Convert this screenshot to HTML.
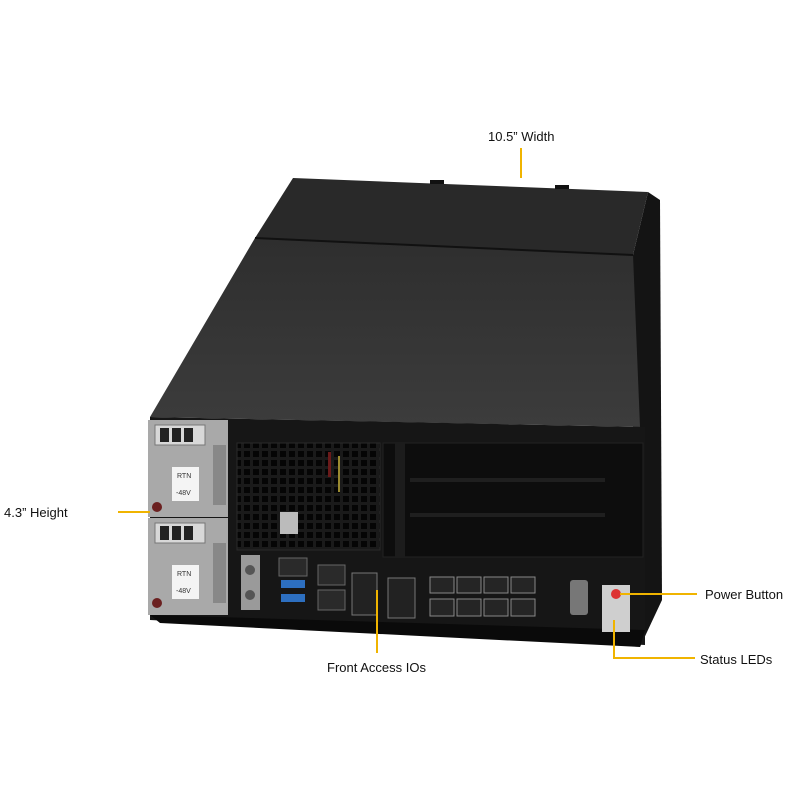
<!DOCTYPE html>
<html><head><style>
body{margin:0;background:#fff;}
svg{display:block;font-family:"Liberation Sans",Arial,sans-serif;}
</style></head><body>
<svg width="800" height="800" viewBox="0 0 800 800">
<defs>
<linearGradient id="top" x1="0" y1="0" x2="0" y2="1"><stop offset="0" stop-color="#2e2e2e"/><stop offset="1" stop-color="#3c3c3c"/></linearGradient>
<pattern id="grid" width="9" height="9" patternUnits="userSpaceOnUse"><rect width="9" height="9" fill="#1a1a1a"/><rect x="1" y="1" width="6" height="6" fill="#050505"/></pattern>
</defs>
<polygon points="648,192 660,200 662,600 640,647 633,427 633,255" fill="#141414"/>
<polygon points="293,178 648,192 633,255 255,238" fill="#292929"/>
<polygon points="255,238 633,255 640,427 150,417" fill="url(#top)"/>
<line x1="255" y1="238" x2="633" y2="255" stroke="#111" stroke-width="2"/>
<rect x="430" y="180" width="14" height="4" fill="#111"/><rect x="555" y="185" width="14" height="4" fill="#111"/>
<polygon points="150,417 645,427 645,645 150,620" fill="#161616"/>
<polygon points="150,615 645,630 640,647 160,623" fill="#0a0a0a"/>
<g>
<rect x="148" y="420" width="80" height="97" fill="#a9a9a9"/>
<rect x="155" y="425" width="50" height="20" fill="#d8d8d8" stroke="#777"/>
<rect x="160" y="428" width="9" height="14" fill="#222"/><rect x="172" y="428" width="9" height="14" fill="#222"/><rect x="184" y="428" width="9" height="14" fill="#222"/>
<rect x="172" y="467" width="27" height="34" fill="#f4f4f4"/>
<text x="177" y="478" font-size="7" fill="#333">RTN</text><text x="176" y="495" font-size="7" fill="#333">-48V</text>
<rect x="213" y="445" width="13" height="60" fill="#888"/>
<circle cx="157" cy="507" r="5" fill="#6b2020"/>
</g>
<g>
<rect x="148" y="518" width="80" height="97" fill="#a9a9a9"/>
<rect x="155" y="523" width="50" height="20" fill="#d8d8d8" stroke="#777"/>
<rect x="160" y="526" width="9" height="14" fill="#222"/><rect x="172" y="526" width="9" height="14" fill="#222"/><rect x="184" y="526" width="9" height="14" fill="#222"/>
<rect x="172" y="565" width="27" height="34" fill="#f4f4f4"/>
<text x="177" y="576" font-size="7" fill="#333">RTN</text><text x="176" y="593" font-size="7" fill="#333">-48V</text>
<rect x="213" y="543" width="13" height="60" fill="#888"/>
<circle cx="157" cy="603" r="5" fill="#6b2020"/>
</g>
<rect x="237" y="443" width="143" height="107" fill="url(#grid)" stroke="#2a2a2a"/>
<rect x="280" y="512" width="18" height="22" fill="#bbb"/>
<rect x="328" y="452" width="3" height="25" fill="#6a1a1a"/><rect x="338" y="456" width="2" height="36" fill="#9a8a30"/>
<rect x="383" y="443" width="260" height="114" fill="#0d0d0d" stroke="#222"/>
<rect x="395" y="443" width="10" height="114" fill="#1c1c1c"/>
<rect x="410" y="478" width="195" height="4" fill="#1f1f1f"/>
<rect x="410" y="513" width="195" height="4" fill="#1f1f1f"/>
<rect x="241" y="555" width="19" height="55" fill="#9a9a9a"/>
<circle cx="250" cy="570" r="5" fill="#555"/><circle cx="250" cy="595" r="5" fill="#555"/>
<rect x="279" y="558" width="28" height="18" fill="#2a2a2a" stroke="#666"/>
<rect x="281" y="580" width="24" height="8" fill="#2d6fc0"/><rect x="281" y="594" width="24" height="8" fill="#2d6fc0"/>
<rect x="318" y="565" width="27" height="20" fill="#2a2a2a" stroke="#666"/>
<rect x="318" y="590" width="27" height="20" fill="#2a2a2a" stroke="#666"/>
<rect x="352" y="573" width="25" height="42" fill="#222" stroke="#777"/>
<rect x="388" y="578" width="27" height="40" fill="#222" stroke="#777"/>
<g fill="#252525" stroke="#888">
<rect x="430" y="577" width="24" height="16"/><rect x="457" y="577" width="24" height="16"/><rect x="484" y="577" width="24" height="16"/><rect x="511" y="577" width="24" height="16"/>
<rect x="430" y="599" width="24" height="17"/><rect x="457" y="599" width="24" height="17"/><rect x="484" y="599" width="24" height="17"/><rect x="511" y="599" width="24" height="17"/>
</g>
<rect x="570" y="580" width="18" height="35" rx="3" fill="#777"/>
<rect x="602" y="585" width="28" height="47" fill="#cfcfcf"/>
<circle cx="616" cy="594" r="5" fill="#d33"/>
<g stroke="#f0b400" stroke-width="2" fill="none">
<line x1="521" y1="148" x2="521" y2="178"/>
<line x1="118" y1="512" x2="150" y2="512"/>
<line x1="620" y1="594" x2="697" y2="594"/>
<polyline points="614,620 614,658 695,658"/>
<line x1="377" y1="590" x2="377" y2="653"/>
</g>
<g font-size="13" fill="#111">
<text x="488" y="141">10.5” Width</text>
<text x="4" y="517">4.3” Height</text>
<text x="705" y="599">Power Button</text>
<text x="700" y="664">Status LEDs</text>
<text x="327" y="672">Front Access IOs</text>
</g>
</svg>
</body></html>
